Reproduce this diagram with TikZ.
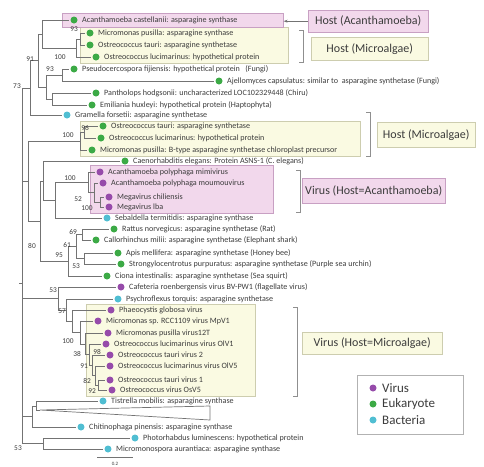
\documentclass[tikz,border=0pt]{standalone}
\usepackage{fontspec}
\setmainfont{Carlito}
\usetikzlibrary{arrows.meta}

\definecolor{virus}{RGB}{150,75,170}
\definecolor{euk}{RGB}{60,170,70}
\definecolor{bact}{RGB}{80,190,210}
\definecolor{pinkfill}{RGB}{242,216,236}
\definecolor{pinkline}{RGB}{200,160,195}
\definecolor{yelfill}{RGB}{250,250,226}
\definecolor{yelline}{RGB}{205,205,175}
\definecolor{txt}{RGB}{60,60,60}
\definecolor{lne}{RGB}{115,115,115}

\tikzset{
  branch/.style={draw=lne, line width=0.7pt},
  leafdot/.style={circle, fill=#1, inner sep=0pt, minimum size=7pt, outer sep=1.5pt},
  leaftext/.style={anchor=west, inner sep=1pt, xshift=2pt, text=txt, font=\fontsize{8.1}{9}\selectfont},
  boot/.style={inner sep=0pt, text=txt, font=\fontsize{7.4}{8}\selectfont},
  pinkbox/.style={draw=pinkline, fill=pinkfill, line width=0.6pt, inner sep=0pt, anchor=north west},
  yelbox/.style={draw=yelline, fill=yelfill, line width=0.6pt, inner sep=0pt, anchor=north west},
  tag/.style={inner sep=0pt, anchor=north west, text=txt, font=\fontsize{12}{14}\selectfont},
  brack/.style={draw=lne!80, line width=0.8pt},
}

\begin{document}
\begin{tikzpicture}[x=1pt, y=-1pt]

\useasboundingbox (0,0) rectangle (484,466);

\node[yelbox, minimum width=208pt, minimum height=36pt] (boxM1) at (80,27) {};
\node[pinkbox, minimum width=221pt, minimum height=14pt] (boxA) at (62,13) {};
\node[yelbox, minimum width=280pt, minimum height=35pt] (boxM2) at (80,121) {};
\node[pinkbox, minimum width=183pt, minimum height=48pt] (boxV1) at (90,165) {};
\node[yelbox, minimum width=169pt, minimum height=92pt] (boxV2) at (86,304) {};

\foreach \n/\x/\y/\c/\t in {
  1/74/20/euk/{Acanthamoeba castellanii: asparagine synthase},
  2/90/33/euk/{Micromonas pusilla: asparagine synthase},
  3/90/45/euk/{Ostreococcus tauri: asparagine synthetase},
  4/96/57/euk/{Ostreococcus lucimarinus: hypothetical protein},
  5/74/69/euk/{Pseudocercospora fijiensis: hypothetical protein \ \ (Fungi)},
  6/219/81/euk/{Ajellomyces capsulatus: similar to \ asparagine synthetase (Fungi)},
  7/96/93/euk/{Pantholops hodgsonii: uncharacterized LOC102329448 (Chiru)},
  8/92/105/euk/{Emiliania huxleyi: hypothetical protein (Haptophyta)},
  9/67/115/bact/{Gramella forsetii: asparagine synthetase},
  10/103/126/euk/{Ostreococcus tauri: asparagine synthetase},
  11/101/138/euk/{Ostreococcus lucimarinus: hypothetical protein},
  12/92/150/euk/{Micromonas pusilla: B-type asparagine synthetase chloroplast precursor},
  13/125/161/euk/{Caenorhabditis elegans: Protein ASNS-1 (C. elegans)},
  14/100/172/virus/{Acanthamoeba polyphaga mimivirus},
  15/103/183/virus/{Acanthamoeba polyphaga moumouvirus},
  16/109/197/virus/{Megavirus chiliensis},
  17/109/207/virus/{Megavirus lba},
  18/107/218/bact/{Sebaldella termitidis: asparagine synthase},
  19/114/229/euk/{Rattus norvegicus: asparagine synthetase (Rat)},
  20/96/240/euk/{Callorhinchus milii: asparagine synthetase (Elephant shark)},
  21/118/253/euk/{Apis mellifera: asparagine synthetase (Honey bee)},
  22/121/264/euk/{Strongylocentrotus purpuratus: asparagine synthetase (Purple sea urchin)},
  23/107/276/euk/{Ciona intestinalis: asparagine synthetase (Sea squirt)},
  24/121/287/virus/{Cafeteria roenbergensis virus BV-PW1 (flagellate virus)},
  25/118/299/bact/{Psychroflexus torquis: asparagine synthetase},
  26/111/310/virus/{Phaeocystis globosa virus},
  27/98/321/virus/{Micromonas sp. RCC1109 virus MpV1},
  28/108/333/virus/{Micromonas pusilla virus12T},
  29/106/344/virus/{Ostreococcus lucimarinus virus OlV1},
  30/110/355/virus/{Ostreococcus tauri virus 2},
  31/110/366/virus/{Ostreococcus lucimarinus virus OlV5},
  32/110/380/virus/{Ostreococcus tauri virus 1},
  33/112/390/virus/{Ostreococcus virus OsV5},
  34/103/401/bact/{Tistrella mobilis: asparagine synthase},
  35/81/427/bact/{Chitinophaga pinensis: asparagine synthase},
  36/135/438/bact/{Photorhabdus luminescens: hypothetical protein},
  37/108/449/bact/{Micromonospora aurantiaca: asparagine synthase}}
{
  \node[leafdot=\c] (l\n) at (\x,\y) {};
  \node[leaftext] (t\n) at (l\n.east) {\t};
}

\coordinate (root) at (22,283);
\coordinate (rootstub) at (19,283);
\coordinate (n93a) at (80,39);
\coordinate (n100a) at (76,48);
\coordinate (nac) at (42,34);
\coordinate (n93b) at (62,75);
\coordinate (nph) at (52,99);
\coordinate (nb) at (46,87);
\coordinate (n91) at (38,60);
\coordinate (n73) at (30,88);
\coordinate (n96) at (84,132);
\coordinate (n100b) at (80,141);
\coordinate (nmg) at (100,202);
\coordinate (n52) at (94,192);
\coordinate (n100c) at (88,182);
\coordinate (nvs) at (55,200);
\coordinate (nce) at (43,181);
\coordinate (n69) at (82,234);
\coordinate (n53a) at (84,258);
\coordinate (n61) at (76,246);
\coordinate (n95) at (68,261);
\coordinate (nx) at (40,221);
\coordinate (n80) at (28,181);
\coordinate (n92) at (98,385);
\coordinate (n82) at (95,375);
\coordinate (n98) at (92,365);
\coordinate (n91b) at (89,354);
\coordinate (n38) at (85,344);
\coordinate (n100d) at (80,332);
\coordinate (npv) at (72,321);
\coordinate (n57) at (66,310);
\coordinate (n53b) at (58,298);
\coordinate (tri) at (40,410);
\coordinate (tria) at (210,406);
\coordinate (trib) at (210,420);
\coordinate (ntt) at (36,406);
\coordinate (nbac) at (32,416);
\coordinate (npm) at (43,443);

\foreach \p/\c in {n93a/l2, n93a/l3, n100a/n93a, n100a/l4, nac/l1, nac/n100a,
  n93b/l5, n93b/l6, nph/l7, nph/l8, nb/n93b, nb/nph, n91/nac, n91/nb,
  n73/n91, n73/l9, root/n73,
  n96/l10, n96/l11, n100b/n96, n100b/l12, nmg/l16, nmg/l17, n52/l15, n52/nmg,
  n100c/l14, n100c/n52, nvs/n100c, nvs/l18, nce/l13, nce/nvs,
  n69/l19, n69/l20, n53a/l21, n53a/l22, n61/n69, n61/n53a, n95/n61, n95/l23,
  nx/nce, nx/n95, n80/n100b, n80/nx, root/n80,
  n92/l32, n92/l33, n82/l31, n82/n92, n98/l30, n98/n82, n91b/l29, n91b/n98,
  n38/l28, n38/n91b, n100d/l27, n100d/n38, npv/l26, npv/n100d, n57/l25, n57/npv,
  n53b/l24, n53b/n57, root/n53b,
  ntt/l34, ntt/tri, nbac/ntt, nbac/l35, npm/l36, npm/l37, root/nbac, root/npm}
  \draw[branch] (\p) |- (\c);

\draw[branch] (root) -- (rootstub);
\draw[branch] (tri) -- (tria) -- (trib) -- cycle;

\foreach \n/\x/\y/\v in {1/74/29/93, 2/60/57/100, 3/30/59/91, 4/50/69/93, 5/17/86/73,
  6/85/128/96, 7/68/135/100, 8/70/178/100, 9/78/199/52, 10/87/208/100,
  11/73/232/69, 12/67/245/61, 13/32/246/80, 14/59/255/95, 15/76/266/53,
  16/53/290/53, 17/62/311/57, 18/68/341/100, 19/77/354/38, 20/97/352/98,
  21/84/366/91, 22/87/381/82, 23/92/391/92, 24/18/448/53}
  \node[boot] (bs\n) at (\x,\y) {\v};

\coordinate (sb1) at (97,457);
\coordinate (sb2) at (133,457);
\draw[branch] (sb1) -- (sb2);
\node[boot, font=\fontsize{5}{6}\selectfont] (sbl) at (115,464) {0.2};

\node[tag, draw=pinkline, fill=pinkfill, minimum width=120pt, minimum height=22pt] (tagA) at (308,10) {Host (Acanthamoeba)};
\node[tag, draw=yelline, fill=yelfill, minimum width=117pt, minimum height=23pt] (tagM1) at (311,37) {Host (Microalgae)};
\node[tag, draw=yelline, fill=yelfill, minimum width=98pt, minimum height=25pt] (tagM2) at (377,122) {Host (Microalgae)};
\node[tag, draw=pinkline, fill=pinkfill, minimum width=143pt, minimum height=25pt] (tagV1) at (302,178) {Virus (Host=Acanthamoeba)};
\node[tag, draw=yelline, fill=yelfill, minimum width=140pt, minimum height=22pt] (tagV2) at (302,332) {Virus (Host=Microalgae)};

\draw[lne, line width=0.7pt, -{Stealth[length=4pt]}] (tagA.west) -- (tagA.west -| boxA.east);

\coordinate (br1t) at (303,30);
\coordinate (br1b) at (303,62);
\coordinate (br2t) at (370,112);
\coordinate (br2b) at (370,156);
\coordinate (br3t) at (300,170);
\coordinate (br3b) at (300,212);
\coordinate (br4t) at (297,307);
\coordinate (br4b) at (297,396);
\foreach \b in {br1, br2, br3, br4}
  \draw[brack] ([xshift=-4pt]\b t) -- (\b t) -- (\b b) -- ([xshift=-4pt]\b b);

\node[draw=gray!60, fill=white, line width=0.7pt, inner sep=0pt, anchor=north west,
  minimum width=106pt, minimum height=59pt] (legend) at (357,375) {};
\foreach \n/\y/\c/\t in {1/388/virus/Virus, 2/404/euk/Eukaryote, 3/420/bact/Bacteria} {
  \node[leafdot=\c] (kd\n) at (373,\y) {};
  \node[anchor=west, inner sep=0pt, text=txt, font=\fontsize{13}{15}\selectfont] (kt\n) at (382,\y) {\t};
}

\end{tikzpicture}
\end{document}
